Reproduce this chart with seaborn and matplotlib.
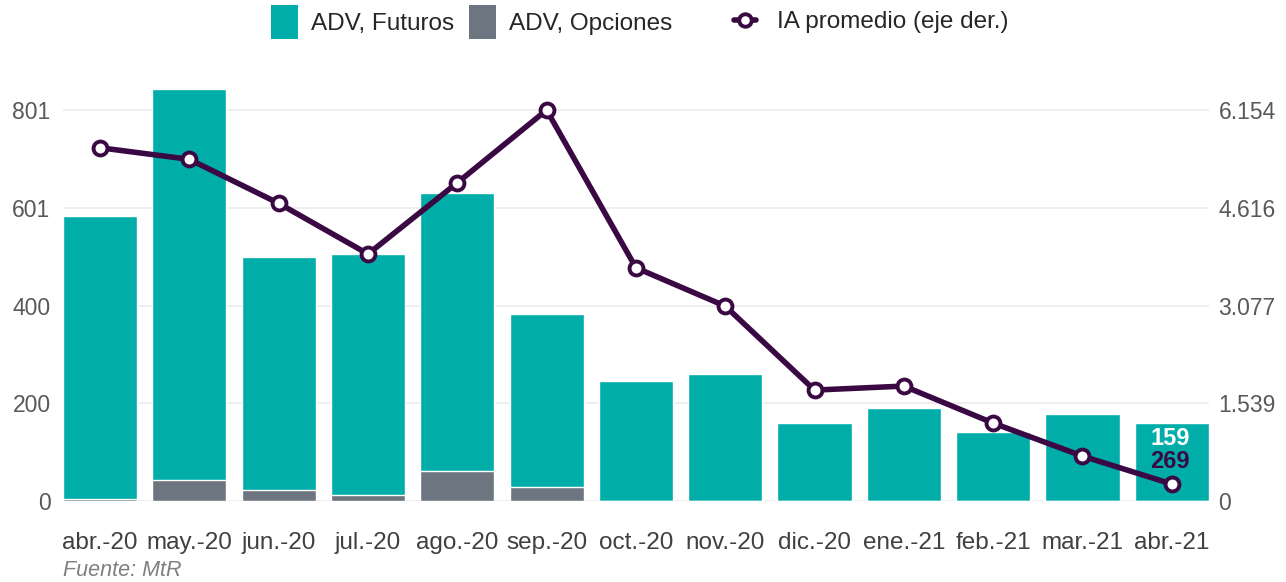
import numpy as np
import pandas as pd
import matplotlib
matplotlib.use("Agg")
import matplotlib.pyplot as plt
import seaborn as sns
from matplotlib.patches import Patch
from matplotlib.lines import Line2D

meses = ["abr.-20", "may.-20", "jun.-20", "jul.-20", "ago.-20", "sep.-20", "oct.-20",
         "nov.-20", "dic.-20", "ene.-21", "feb.-21", "mar.-21", "abr.-21"]
adv_futuros = [581, 800, 479, 494, 570, 354, 246, 260, 160, 190, 141, 178, 159]
adv_opciones = [4, 44, 22, 12, 61, 29, 0, 0, 0, 0, 0, 0, 0]
ia_promedio = [5561, 5378, 4686, 3888, 5010, 6154, 3672, 3069, 1747, 1810, 1228, 708, 269]

ticks_izq = [0, 200.25, 400.5, 600.75, 801]
etiq_izq = ["0", "200", "400", "601", "801"]
ticks_der = [0, 1538.5, 3077, 4615.5, 6154]
etiq_der = ["0", "1.539", "3.077", "4.616", "6.154"]

TEAL = "#00ADA9"
GRIS = "#6D7580"
MORADO = "#3A0843"
TXT = "#595959"

df = pd.DataFrame({"mes": meses, "futuros": adv_futuros, "opciones": adv_opciones})
df["total"] = df["futuros"] + df["opciones"]

sns.set_style("white")
plt.rcParams["font.family"] = ["Liberation Sans", "DejaVu Sans"]

fig = plt.figure(figsize=(12.86, 5.82), dpi=100)
ax = fig.add_axes([0.049, 0.139, 0.891, 0.713])

# barras apiladas: total en teal, opciones en gris encima de la base
sns.barplot(data=df, x="mes", y="total", color=TEAL, width=0.83, saturation=1, ax=ax, zorder=2)
sns.barplot(data=df, x="mes", y="opciones", color=GRIS, width=0.83, saturation=1, ax=ax, zorder=3)

ax.set_xlim(-0.415, len(meses) - 1 + 0.415)
ax.set_ylim(0, 850)
ax.set_yticks(ticks_izq)
ax.set_yticklabels(etiq_izq)
ax.set_xlabel("")
ax.set_ylabel("")
ax.grid(axis="y", color="#EBEBEB", linewidth=1.2, zorder=0)
ax.set_axisbelow(True)
for s in ax.spines.values():
    s.set_visible(False)
ax.tick_params(axis="y", length=0, pad=9, labelsize=16.5, labelcolor=TXT)
ax.tick_params(axis="x", length=0, pad=22, labelsize=17.5, labelcolor="#404040")

# linea IA promedio, eje derecho
ax2 = ax.twinx()
ax2.plot(np.arange(len(meses)), ia_promedio, color=MORADO, linewidth=4, marker="o",
         markersize=10, markerfacecolor="white", markeredgecolor=MORADO,
         markeredgewidth=2.8, zorder=5)
ax2.set_ylim(0, 6154 * 850 / 801)
ax2.set_yticks(ticks_der)
ax2.set_yticklabels(etiq_der)
for s in ax2.spines.values():
    s.set_visible(False)
ax2.tick_params(axis="y", length=0, pad=7, labelsize=16.5, labelcolor=TXT)
ax2.grid(False)

# etiquetas del ultimo mes
ult = len(meses) - 1
ax.text(ult - 0.02, adv_futuros[ult] - 7, str(adv_futuros[ult]), color="white",
        fontsize=17, fontweight="bold", ha="center", va="top", zorder=6)
ax2.text(ult - 0.02, ia_promedio[ult] + 170, str(ia_promedio[ult]), color=MORADO,
         fontsize=17, fontweight="bold", ha="center", va="bottom", zorder=6)

# leyenda en dos partes para reproducir el hueco antes de la linea
h_barras = [Patch(facecolor=TEAL, edgecolor="none"), Patch(facecolor=GRIS, edgecolor="none")]
leg1 = fig.legend(h_barras, ["ADV, Futuros", "ADV, Opciones"],
                  loc="center left", bbox_to_anchor=(0.211, 0.962), ncol=2, frameon=False,
                  fontsize=17.5, handlelength=1.1, handleheight=1.75, handletextpad=0.55,
                  columnspacing=0.6, labelcolor="#262626", borderpad=0, borderaxespad=0)
h_linea = [Line2D([0], [0], color=MORADO, linewidth=4, marker="o", markersize=9,
                  markerfacecolor="white", markeredgecolor=MORADO, markeredgewidth=2.8)]
fig.legend(h_linea, ["IA promedio (eje der.)"],
           loc="center left", bbox_to_anchor=(0.571, 0.962), frameon=False,
           fontsize=17.5, handlelength=0.9, handletextpad=0.85,
           labelcolor="#262626", borderpad=0, borderaxespad=0)

fig.text(0.049, 0.019, "Fuente: MtR", fontsize=15.5, style="italic", color="#7F7F7F",
         ha="left", va="center")

fig.savefig("out.png", dpi=100)
